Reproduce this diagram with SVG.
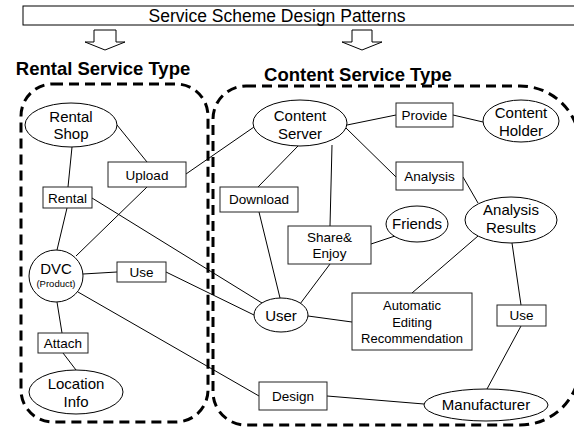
<svg xmlns="http://www.w3.org/2000/svg" width="574" height="429" viewBox="0 0 574 429">
<style>
text{font-family:"Liberation Sans",Arial,sans-serif;fill:#000;text-anchor:middle}
.el{fill:#fff;stroke:#000;stroke-width:1}
.bx{fill:#fff;stroke:#222;stroke-width:1}
.t15{font-size:15px}
.t14{font-size:13.5px}
.t13{font-size:13px}
.region{fill:none;stroke:#000;stroke-width:3;stroke-dasharray:10 6}
#connectors line{stroke:#000;stroke-width:1}
.hollow{fill:#fff;stroke:#000;stroke-width:1}
</style>
<rect x="0" y="0" width="574" height="429" fill="#fff"/>
<g id="title">
<rect x="23" y="6" width="560" height="19" fill="#fff" stroke="#000" stroke-width="1"/>
<text x="277" y="22" style="font-size:17.5px">Service Scheme Design Patterns</text>
</g>
<g id="arrows">
<polygon class="hollow" points="94,30 116,30 116,42 125,42 105,50 85,42 94,42"/>
<polygon class="hollow" points="352,30 372,30 372,42 382,42 362,50 342,42 352,42"/>
</g>
<g id="rental-region">
<path class="region" d="M53 84 H176 A32 32 0 0 1 208 116 V390 A32 32 0 0 1 176 422 H53 A32 32 0 0 1 21 390 V116 A32 32 0 0 1 53 84 Z"/>
<text x="103" y="75" style="font-size:18.5px;font-weight:bold">Rental Service Type</text>
</g>
<g id="content-region">
<path class="region" d="M246 86 H520 A60 60 0 0 1 580 146 V365 A60 60 0 0 1 520 425 H246 A33 33 0 0 1 213 392 V119 A33 33 0 0 1 246 86 Z"/>
<text x="358" y="81" style="font-size:18.5px;font-weight:bold">Content Service Type</text>
</g>
<g id="connectors">
<line x1="117" y1="125" x2="147" y2="162"/>
<line x1="72" y1="147" x2="68" y2="187"/>
<line x1="186" y1="174" x2="254" y2="127"/>
<line x1="147" y1="187" x2="76" y2="256"/>
<line x1="67" y1="208" x2="57" y2="250"/>
<line x1="92" y1="198" x2="262" y2="303"/>
<line x1="83" y1="274" x2="117" y2="272"/>
<line x1="166" y1="272" x2="254" y2="315"/>
<line x1="78" y1="292" x2="259" y2="396"/>
<line x1="57" y1="302" x2="62" y2="333"/>
<line x1="63" y1="353" x2="76" y2="370"/>
<line x1="347" y1="125" x2="396" y2="115"/>
<line x1="453" y1="115" x2="483" y2="122"/>
<line x1="346" y1="128" x2="396" y2="177"/>
<line x1="463" y1="177" x2="478" y2="203"/>
<line x1="332" y1="145" x2="330" y2="226"/>
<line x1="298" y1="146" x2="258" y2="187"/>
<line x1="371" y1="244" x2="395" y2="236"/>
<line x1="259" y1="212" x2="280" y2="298"/>
<line x1="330" y1="264" x2="300" y2="304"/>
<line x1="308" y1="316" x2="352" y2="322"/>
<line x1="412" y1="293" x2="478" y2="236"/>
<line x1="512" y1="243" x2="521" y2="305"/>
<line x1="521" y1="326" x2="487" y2="389"/>
<line x1="327" y1="396" x2="424" y2="404"/>
</g>
<g id="rental-shop"><ellipse class="el" cx="71" cy="125" rx="46" ry="22"/><text class="t15" x="71" y="122">Rental</text><text class="t15" x="71" y="139">Shop</text></g>
<g id="upload"><rect class="bx" x="108" y="162" width="78" height="25"/><text class="t14" x="147" y="180">Upload</text></g>
<g id="rental"><rect class="bx" x="43" y="187" width="49" height="21"/><text class="t14" x="67.5" y="203">Rental</text></g>
<g id="dvc"><ellipse class="el" cx="56" cy="276" rx="27" ry="26"/><text class="t15" x="56" y="274">DVC</text><text x="56" y="287" style="font-size:9.5px">(Product)</text></g>
<g id="use-left"><rect class="bx" x="117" y="262" width="49" height="20"/><text class="t14" x="141.5" y="277">Use</text></g>
<g id="attach"><rect class="bx" x="38" y="333" width="50" height="20"/><text class="t14" x="63" y="348">Attach</text></g>
<g id="location-info"><ellipse class="el" cx="76" cy="392" rx="47" ry="22"/><text class="t15" x="76" y="389">Location</text><text class="t15" x="76" y="407">Info</text></g>
<g id="content-server"><ellipse class="el" cx="300" cy="123" rx="47" ry="23"/><text class="t15" x="300" y="121">Content</text><text class="t15" x="300" y="139">Server</text></g>
<g id="provide"><rect class="bx" x="396" y="103" width="57" height="24"/><text class="t14" x="424.5" y="120">Provide</text></g>
<g id="content-holder"><ellipse class="el" cx="521" cy="121" rx="38" ry="21"/><text class="t15" x="521" y="118">Content</text><text class="t15" x="521" y="136">Holder</text></g>
<g id="analysis"><rect class="bx" x="396" y="162" width="67" height="28"/><text class="t14" x="429.5" y="181">Analysis</text></g>
<g id="analysis-results"><ellipse class="el" cx="511" cy="220" rx="46" ry="23"/><text class="t15" x="511" y="215">Analysis</text><text class="t15" x="511" y="233">Results</text></g>
<g id="download"><rect class="bx" x="220" y="187" width="78" height="25"/><text class="t14" x="259" y="204">Download</text></g>
<g id="friends"><ellipse class="el" cx="417" cy="224" rx="31" ry="18"/><text class="t15" x="417" y="229">Friends</text></g>
<g id="share-enjoy"><rect class="bx" x="288" y="226" width="83" height="38"/><text class="t14" x="329.5" y="242">Share&amp;</text><text class="t14" x="329.5" y="258">Enjoy</text></g>
<g id="user"><ellipse class="el" cx="281" cy="315" rx="27" ry="17"/><text class="t15" x="281" y="321">User</text></g>
<g id="automatic-editing"><rect class="bx" x="352" y="293" width="120" height="57"/><text class="t13" x="412" y="310">Automatic</text><text class="t13" x="412" y="327">Editing</text><text class="t13" x="412" y="343">Recommendation</text></g>
<g id="use-right"><rect class="bx" x="497" y="305" width="49" height="21"/><text class="t14" x="521.5" y="320">Use</text></g>
<g id="design"><rect class="bx" x="259" y="382" width="68" height="28"/><text class="t14" x="293" y="401">Design</text></g>
<g id="manufacturer"><ellipse class="el" cx="486" cy="405" rx="62" ry="16"/><text class="t15" x="486" y="410">Manufacturer</text></g>
</svg>
